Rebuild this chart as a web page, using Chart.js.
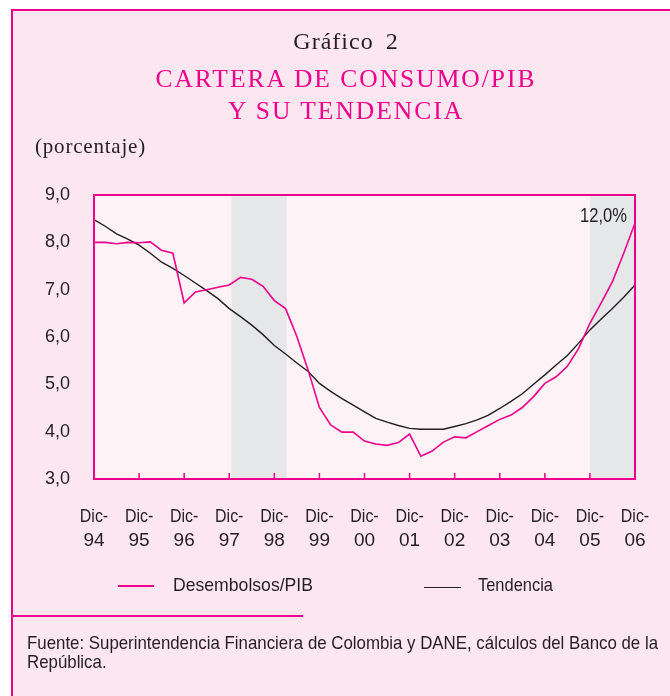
<!DOCTYPE html>
<html lang="es">
<head>
<meta charset="utf-8">
<title>Cartera de consumo/PIB y su tendencia</title>
<script src="https://cdn.jsdelivr.net/npm/chart.js@4.4.1/dist/chart.umd.min.js"></script>
<style>
  body { margin: 0; background: #fff; }
  #hoja { position: relative; width: 670px; height: 696px; overflow: hidden; }
  #marco { position: absolute; left: 11px; top: 9px; right: -10px; bottom: -10px;
           background: #fce6f0; border-top: 2px solid #ec008c; border-left: 2px solid #ec008c; }
  #grafico { position: absolute; left: 0; top: 0; }
  .txt { position: absolute; white-space: nowrap; color: #231f20; }
  .serif { font-family: "Liberation Serif", "DejaVu Serif", serif; }
  .sans { font-family: "Liberation Sans", sans-serif; }
  .linea { position: absolute; height: 2px; }
</style>
</head>
<body>
<div id="hoja">
  <div id="marco"></div>
  <canvas id="grafico" width="670" height="696"></canvas>

  <div class="txt serif" style="left:0;width:692px;text-align:center;top:28.6px;font-size:24px;line-height:24px;letter-spacing:1px;word-spacing:5px;">Gráfico 2</div>
  <div class="txt serif" style="left:0;width:692px;text-align:center;top:62.7px;font-size:25.5px;line-height:32px;letter-spacing:2px;color:#ec008c;">CARTERA DE CONSUMO/PIB<br>Y SU TENDENCIA</div>
  <div class="txt serif" style="left:35px;top:136.4px;font-size:21px;line-height:21px;letter-spacing:0.8px;">(porcentaje)</div>

  <div class="linea" style="left:118px;top:585px;width:36px;background:#ec008c;"></div>
  <div class="txt sans" data-ancho="140" style="left:172.7px;top:575.2px;font-size:19px;line-height:19px;">Desembolsos/PIB</div>
  <div class="linea" style="left:424px;top:586.5px;width:37px;background:#231f20;height:1.5px;"></div>
  <div class="txt sans" data-ancho="75" style="left:478.3px;top:575.2px;font-size:19px;line-height:19px;">Tendencia</div>

  <div class="linea" style="left:12px;top:615px;width:291px;background:#ec008c;"></div>
  <div class="txt sans" data-ancho="631" style="left:26.7px;top:633.4px;font-size:19px;line-height:19px;">Fuente: Superintendencia Financiera de Colombia y DANE, cálculos del Banco de la<br>República.</div>
</div>

<script>
/* =========================================================
   DATOS (trimestrales, dic-94 a dic-06)
========================================================= */
const anios = ["94", "95", "96", "97", "98", "99", "00", "01", "02", "03", "04", "05", "06"];

const desembolsos = [
  8.00, 8.00, 7.97, 8.00, 7.99, 8.01, 7.83, 7.77, 6.72, 6.95, 7.00, 7.05, 7.10,
  7.26, 7.22, 7.07, 6.77, 6.60, 6.01, 5.30, 4.51, 4.14, 3.99, 3.99, 3.80,
  3.74, 3.71, 3.77, 3.95, 3.48, 3.59, 3.78, 3.89, 3.87, 4.00, 4.13, 4.26,
  4.35, 4.51, 4.74, 5.02, 5.16, 5.38, 5.76, 6.29, 6.72, 7.17, 7.77, 8.41
];

const tendencia = [
  8.48, 8.34, 8.18, 8.07, 7.94, 7.77, 7.58, 7.45, 7.30, 7.14, 6.98, 6.81, 6.60,
  6.43, 6.25, 6.05, 5.82, 5.64, 5.45, 5.27, 5.02, 4.85, 4.70, 4.56, 4.42,
  4.28, 4.20, 4.13, 4.07, 4.05, 4.05, 4.05, 4.11, 4.17, 4.25, 4.35, 4.49,
  4.64, 4.80, 5.00, 5.20, 5.41, 5.61, 5.87, 6.15, 6.38, 6.60, 6.84, 7.10
];

// periodos sombreados, en trimestres desde dic-94
const sombraInicio = [12.2, 44];
const sombraFin = [17.1, 48];

const nota = "12,0%";

/* =========================================================
   COLORES / FUENTES
========================================================= */
const ROSA = "#ec008c";
const NEGRO = "#231f20";
const FONDO_AREA = "#fdf2f6";
const GRIS = "#e6e7e9";
const SANS = '"Liberation Sans", sans-serif';

/* =========================================================
   TEXTO ANGOSTO (la fuente original es condensada)
========================================================= */
document.querySelectorAll("[data-ancho]").forEach(el => {
  const w = el.getBoundingClientRect().width;
  el.style.transformOrigin = "left top";
  el.style.transform = `scaleX(${Number(el.dataset.ancho) / w})`;
});

const angosto = {
  id: "angosto",
  beforeDraw(chart) {
    const ctx = chart.ctx;
    const factores = { x: 0.84, y: 1 };
    Object.keys(factores).forEach(id => {
      const scale = chart.scales[id];
      scale.getLabelItems(chart.chartArea).forEach(item => {
        ctx.save();
        ctx.font = item.font.string;
        const lineas = Array.isArray(item.label) ? item.label : [item.label];
        const w = Math.max(...lineas.map(l => ctx.measureText(l).width));
        ctx.restore();
        item.options.maxWidth = w * factores[id];
      });
    });
  }
};

/* =========================================================
   PLUGIN: fondo, sombras, borde, marcas
========================================================= */
const marco = {
  id: "marco",
  beforeDatasetsDraw(chart) {
    const { ctx, chartArea: a, scales: { x } } = chart;
    ctx.save();
    ctx.fillStyle = FONDO_AREA;
    ctx.fillRect(a.left, a.top, a.right - a.left, a.bottom - a.top);
    ctx.fillStyle = GRIS;
    sombraInicio.forEach((ini, i) => {
      const x0 = x.getPixelForValue(ini);
      const x1 = x.getPixelForValue(sombraFin[i]);
      ctx.fillRect(x0, a.top, x1 - x0, a.bottom - a.top);
    });
    ctx.restore();
  },
  afterDatasetsDraw(chart) {
    const { ctx, chartArea: a, scales: { x } } = chart;
    ctx.save();
    ctx.strokeStyle = ROSA;
    ctx.lineWidth = 2;
    ctx.strokeRect(a.left, a.top, a.right - a.left, a.bottom - a.top);

    ctx.lineWidth = 1.5;
    ctx.beginPath();
    x.ticks.forEach(t => {
      const px = x.getPixelForValue(t.value);
      ctx.moveTo(px, a.bottom);
      ctx.lineTo(px, a.bottom - 6);
    });
    ctx.stroke();

    ctx.fillStyle = NEGRO;
    ctx.font = "21px " + SANS;
    ctx.textAlign = "center";
    ctx.textBaseline = "alphabetic";
    ctx.fillText(nota, x.getPixelForValue(45.2), 221.7, 47);
    ctx.restore();
  }
};

/* =========================================================
   GRAFICO
========================================================= */
new Chart(document.getElementById("grafico"), {
  type: "line",
  data: {
    datasets: [
      {
        label: "Desembolsos/PIB",
        data: desembolsos.map((v, i) => ({ x: i, y: v })),
        borderColor: ROSA,
        borderWidth: 1.6,
        pointRadius: 0,
        tension: 0
      },
      {
        label: "Tendencia",
        data: tendencia.map((v, i) => ({ x: i, y: v })),
        borderColor: NEGRO,
        borderWidth: 1.4,
        pointRadius: 0,
        tension: 0
      }
    ]
  },
  options: {
    responsive: false,
    animation: false,
    layout: { padding: { top: 195, right: 35, bottom: 147, left: 0 } },
    plugins: { legend: { display: false }, tooltip: { enabled: false } },
    scales: {
      x: {
        type: "linear",
        min: 0,
        max: 48,
        grid: { display: false, drawTicks: false },
        border: { display: false },
        afterFit: s => { s.height = 70; s.paddingLeft = 0; s.paddingRight = 0; },
        afterBuildTicks: s => { s.ticks = anios.map((a, i) => ({ value: i * 4 })); },
        ticks: {
          autoSkip: false,
          maxRotation: 0,
          padding: 26,
          color: NEGRO,
          font: { family: SANS, size: 19, lineHeight: 1.26 },
          callback: v => ["Dic-", anios[Math.round(v / 4)]]
        }
      },
      y: {
        min: 3,
        max: 9,
        grid: { display: false, drawTicks: false },
        border: { display: false },
        afterFit: s => { s.width = 94; s.paddingTop = 0; s.paddingBottom = 0; },
        ticks: {
          stepSize: 1,
          padding: 24,
          color: NEGRO,
          font: { family: SANS, size: 18 },
          callback: v => v.toFixed(1).replace(".", ",")
        }
      }
    }
  },
  plugins: [angosto, marco]
});
</script>
</body>
</html>
